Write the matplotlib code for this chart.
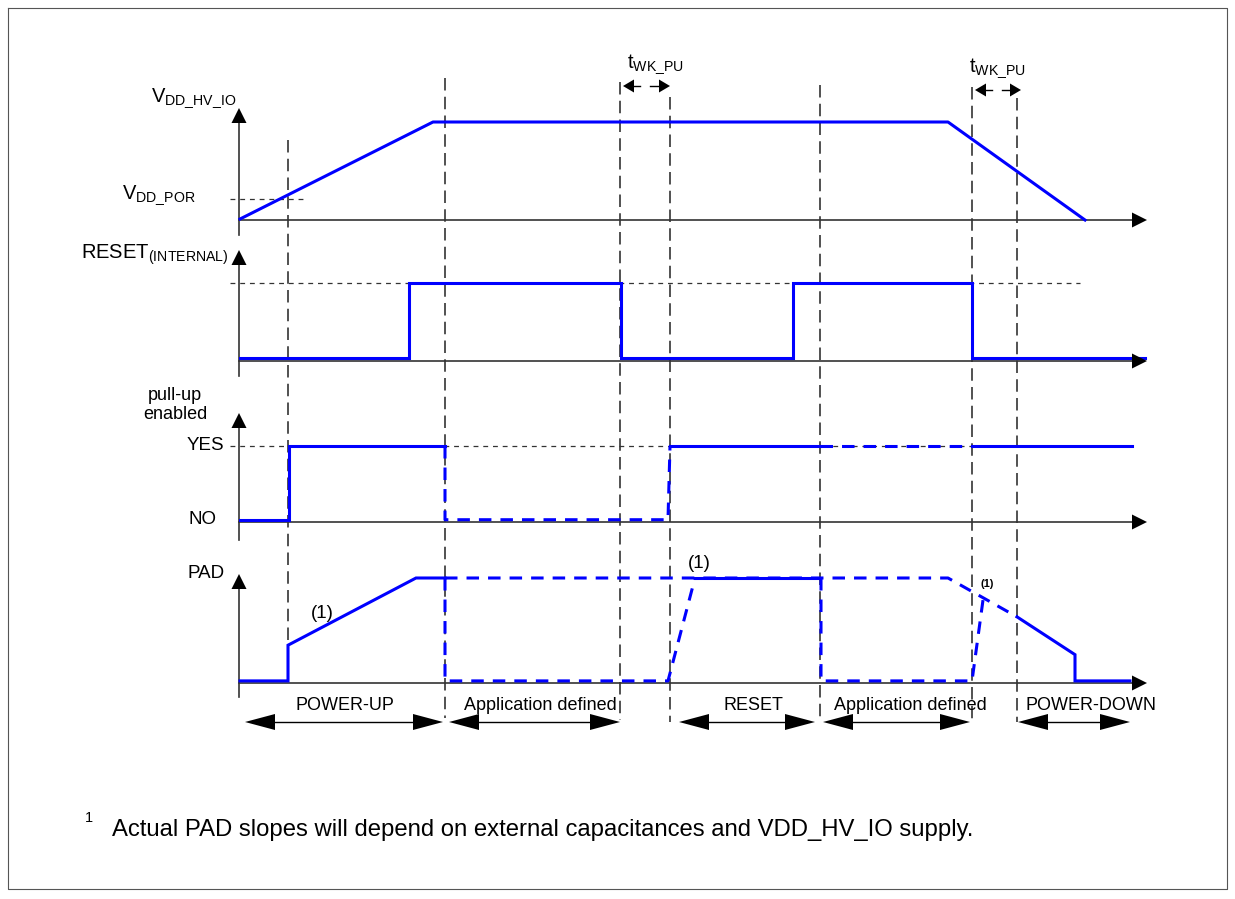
import matplotlib.pyplot as plt

plt.rcParams['font.family'] = ['Liberation Sans', 'DejaVu Sans']
plt.rcParams['mathtext.fontset'] = 'custom'
plt.rcParams['mathtext.rm'] = 'Liberation Sans'
plt.rcParams['lines.scale_dashes'] = False

# layout of the four traces (pixel rows)
track_base = [220, 361, 522, 683]
track_high = [122, 283, 446, 578]
axis_top = [108, 250, 413, 574]
axis_bottom = [235, 376, 540, 697]
axis_x0, axis_x1 = 239, 1147

# VDD_HV_IO supply
vdd_x = [240, 433, 948, 1085]
vdd_lv = [0.01, 1, 1, 0]
vdd_por_lv = 0.21

# internal reset
reset_x = [240, 409, 409, 621, 621, 793, 793, 972, 972, 1145]
reset_lv = [0.04, 0.04, 1, 1, 0.04, 0.04, 1, 1, 0.04, 0.04]

# pull-up enabled
pu_solid = [([240, 289, 289, 445], [0.03, 0.03, 1, 1]),
            ([670, 820], [1, 1]),
            ([972, 1132], [1, 1])]
pu_dash = [([445, 445, 668, 670], [1, 0.03, 0.03, 1]),
           ([820, 972], [1, 1])]

# PAD
pad_solid = [([240, 288, 288, 416, 445], [0.02, 0.02, 0.36, 1, 1]),
             ([695, 818], [1, 1]),
             ([1017, 1075, 1075, 1130], [0.63, 0.27, 0.02, 0.02])]
pad_dash = [([445, 948, 1017], [1, 1, 0.63]),
            ([445, 445, 668, 695], [1, 0.02, 0.02, 1]),
            ([821, 821, 972, 983], [1, 0.02, 0.02, 0.79])]

# event markers
event_x = [288, 445, 620, 670, 820, 972, 1017]
event_top = [140, 78, 82, 97, 85, 87, 98]
event_bottom = [683, 718, 720, 722, 722, 722, 722]

# phases
phase_names = ['POWER-UP', 'Application defined', 'RESET', 'Application defined', 'POWER-DOWN']
phase_start = [245, 449, 679, 823, 1018]
phase_end = [443, 620, 815, 970, 1130]
phase_label_x = [345, 540, 753, 910, 1091]

# t_WK_PU marks: (left line, right line, label x, row)
twk = [(620, 670, 627, 86), (972, 1021, 969, 90)]

BLUE = '#0000ff'
W, H = 1235, 899

fig = plt.figure(figsize=(W / 100, H / 100), dpi=100)
ax = fig.add_axes([0, 0, 1, 1])
ax.set_xlim(0, W)
ax.set_ylim(H, 0)
ax.axis('off')


def head(x, y, dx, dy, length, half):
    bx, by = x - dx * length, y - dy * length
    px, py = -dy, dx
    ax.fill([x, bx + px * half, bx - px * half], [y, by + py * half, by - py * half],
            color='black', lw=0, zorder=5)


def ys(levels, i):
    h = track_base[i] - track_high[i]
    return [track_base[i] - v * h for v in levels]


# frame
ax.plot([8, 1227, 1227, 8, 8], [8, 8, 889, 889, 8], color='#555555', lw=0.8)

# axes of each trace
for i in range(4):
    ax.plot([axis_x0, axis_x0], [axis_top[i] + 10, axis_bottom[i]], color='#333333', lw=1.2, zorder=2)
    head(axis_x0, axis_top[i], 0, -1, 15, 7.5)
    ax.plot([axis_x0, axis_x1 - 10], [track_base[i], track_base[i]], color='#333333', lw=1.2, zorder=2)
    head(axis_x1, track_base[i], 1, 0, 15, 7.5)

# event dashed lines
for x, t, b in zip(event_x, event_top, event_bottom):
    ax.plot([x, x], [t, b], color='#222222', lw=1.1, ls=(0, (9, 4.5)), zorder=1)

# reference dotted lines
dot = (0, (3.5, 3.5))
ax.plot([230, 303], ys([vdd_por_lv] * 2, 0), color='#333333', lw=0.9, ls=dot, zorder=1)
ax.plot([230, 1080], [track_high[1]] * 2, color='#333333', lw=0.9, ls=dot, zorder=1)
ax.plot([230, 1000], [track_high[2]] * 2, color='#333333', lw=0.9, ls=dot, zorder=1)

# waveforms
blue_dash = (0, (9, 6.5))
ax.plot(vdd_x, ys(vdd_lv, 0), color=BLUE, lw=2.2, zorder=3)
ax.plot(reset_x, ys(reset_lv, 1), color=BLUE, lw=2.2, zorder=3, solid_joinstyle='miter')
for xs, lv in pu_dash:
    ax.plot(xs, ys(lv, 2), color=BLUE, lw=2.2, ls=blue_dash, zorder=3)
for xs, lv in pu_solid:
    ax.plot(xs, ys(lv, 2), color=BLUE, lw=2.2, zorder=4, solid_joinstyle='miter')
for xs, lv in pad_dash:
    ax.plot(xs, ys(lv, 3), color=BLUE, lw=2.2, ls=blue_dash, zorder=3)
for xs, lv in pad_solid:
    ax.plot(xs, ys(lv, 3), color=BLUE, lw=2.2, zorder=4, solid_joinstyle='miter')

# trace labels
ax.text(151, 102, r'$\mathregular{V_{DD\_HV\_IO}}$', fontsize=14.5, va='baseline', ha='left')
ax.text(122, 199, r'$\mathregular{V_{DD\_POR}}$', fontsize=14.5, va='baseline', ha='left')
ax.text(81, 259, r'$\mathregular{RESET_{(INTERNAL)}}$', fontsize=14.5, va='baseline', ha='left')
ax.text(175, 405, 'pull-up\nenabled', fontsize=13, ha='center', va='center', linespacing=1.1)
ax.text(224, track_high[2], 'YES', fontsize=13.5, ha='right', va='center')
ax.text(217, track_base[2] - 2, 'NO', fontsize=13.5, ha='right', va='center')
ax.text(225, 574, 'PAD', fontsize=13.5, ha='right', va='center')

# footnote marks on the PAD trace
ax.text(322, 613, '(1)', fontsize=13.5, ha='center', va='center')
ax.text(699, 564, '(1)', fontsize=13.5, ha='center', va='center')
ax.text(987, 584, '(1)', fontsize=8, ha='center', va='center', fontweight='bold')

# t_WK_PU markers
for xl, xr, tx, ty in twk:
    ax.text(tx, ty - 18, r'$\mathregular{t_{WK\_PU}}$', fontsize=14.5, ha='left', va='baseline')
    mid = (xl + xr) / 2
    ax.plot([xl + 8, mid - 5], [ty, ty], color='black', lw=1.0)
    ax.plot([mid + 5, xr - 8], [ty, ty], color='black', lw=1.0)
    head(xl + 3, ty, -1, 0, 11, 6.5)
    head(xr, ty, 1, 0, 11, 6.5)

# phase arrows
for name, a, b, lx in zip(phase_names, phase_start, phase_end, phase_label_x):
    ax.plot([a + 20, b - 20], [722, 722], color='black', lw=1.0)
    head(a, 722, -1, 0, 30, 8)
    head(b, 722, 1, 0, 30, 8)
    ax.text(lx, 705, name, fontsize=13, ha='center', va='center')

# footnote
ax.text(89, 818, '1', fontsize=10.5, ha='center', va='center')
ax.text(112, 830, 'Actual PAD slopes will depend on external capacitances and VDD_HV_IO supply.',
        fontsize=17.2, ha='left', va='center')

fig.savefig('out.png', dpi=100)
